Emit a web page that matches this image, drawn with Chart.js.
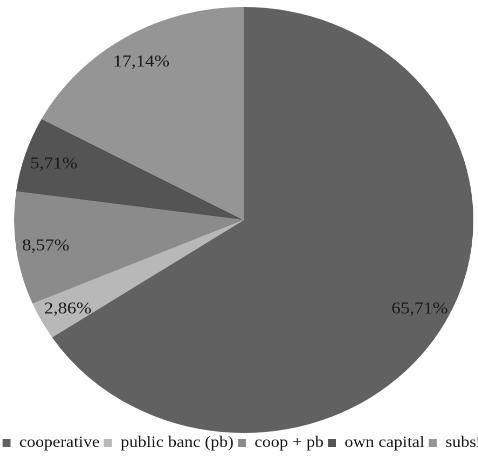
<!DOCTYPE html>
<html>
<head>
<meta charset="utf-8">
<script src="https://cdn.jsdelivr.net/npm/chart.js@4/dist/chart.umd.min.js"></script>
<style>
  html, body { margin: 0; padding: 0; background: #ffffff; overflow: hidden; width: 478px; height: 456px; }
  #wrap { position: absolute; left: -15.2px; top: 0; }
  #c { display: block; transform: scaleX(1.078); transform-origin: 0 0; }
</style>
</head>
<body>
<div id="wrap"><canvas id="c" width="480" height="461"></canvas></div>
<script>
const categories = ['cooperative', 'public banc (pb)', 'coop + pb', 'own capital', 'subsidy'];
const shares = [65.71, 2.86, 8.57, 5.71, 17.14];
const sliceColors = ['#616161', '#b8b8b8', '#8b8b8b', '#545454', '#959595'];

const SERIF = "'Liberation Serif', 'Times New Roman', Times, serif";
const LABEL_SIZE = 17;
const fmt = v => v.toFixed(2).replace('.', ',') + '%';

const pieLabels = {
  id: 'pieLabels',
  afterDatasetsDraw(chart) {
    const ctx = chart.ctx;
    const meta = chart.getDatasetMeta(0);
    ctx.save();
    ctx.font = LABEL_SIZE + 'px ' + SERIF;
    ctx.fillStyle = '#1a1a1a';
    ctx.textAlign = 'center';
    ctx.textBaseline = 'alphabetic';
    meta.data.forEach((arc, i) => {
      const p = arc.getProps(['x', 'y', 'startAngle', 'endAngle', 'outerRadius'], true);
      const mid = (p.startAngle + p.endAngle) / 2;
      const r = p.outerRadius * 0.87;
      ctx.fillText(fmt(chart.data.datasets[0].data[i]),
        p.x + Math.cos(mid) * r,
        p.y + Math.sin(mid) * r + LABEL_SIZE * 0.33);
    });
    ctx.restore();
  }
};

function draw() {
  new Chart(document.getElementById('c'), {
    type: 'pie',
    data: {
      labels: categories,
      datasets: [{
        data: shares,
        backgroundColor: sliceColors,
        borderWidth: 0,
        radius: 213
      }]
    },
    options: {
      responsive: false,
      animation: false,
      devicePixelRatio: 2,
      layout: { padding: { left: 0, right: 0, top: 9, bottom: 0 } },
      plugins: {
        tooltip: { enabled: false },
        legend: {
          position: 'bottom',
          align: 'end',
          labels: {
            boxWidth: 7.4,
            boxHeight: 8,
            padding: 4,
            color: '#141414',
            font: { family: SERIF, size: 16 }
          }
        }
      }
    },
    plugins: [pieLabels]
  });
}

if (document.fonts && document.fonts.load) {
  document.fonts.load('16px "Liberation Serif"').then(draw, draw);
} else {
  draw();
}
</script>
</body>
</html>
